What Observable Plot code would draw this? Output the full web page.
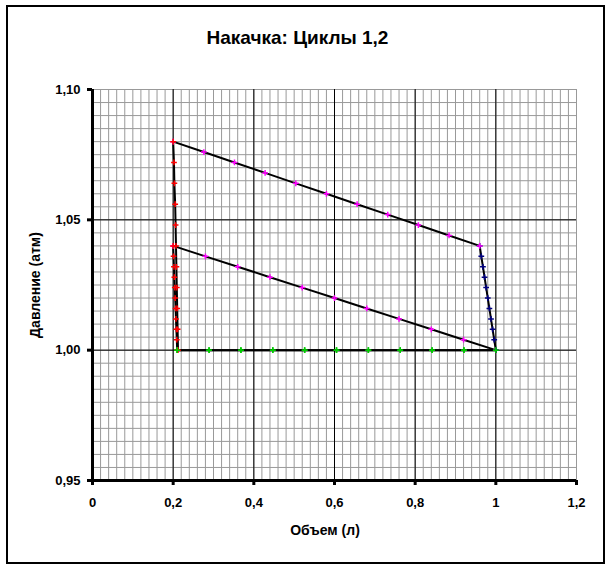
<!DOCTYPE html>
<html>
<head>
<meta charset="utf-8">
<script src="https://cdn.jsdelivr.net/npm/d3@7"></script>
<script src="https://cdn.jsdelivr.net/npm/@observablehq/plot@0.6"></script>
<style>
  html, body { margin: 0; padding: 0; background: #fff; }
  #wrap { position: relative; width: 611px; height: 577px; font-family: Arial, "Liberation Sans", sans-serif; }
  #border { position: absolute; left: 6px; top: 5px; width: 595px; height: 555px; border: 2px solid #000; box-sizing: content-box; pointer-events: none; }
  .t { position: absolute; font-weight: bold; color: #000; white-space: nowrap; }
  #title { left: 0; width: 595px; text-align: center; top: 27px; font-size: 19px; }
  #xlab { left: 0; width: 650px; text-align: center; top: 522px; font-size: 14px; }
  #ylab { left: 35px; top: 285px; font-size: 14px; transform: translate(-50%, -50%) rotate(-90deg); }
  #chart { position: absolute; left: 0; top: 0; }
</style>
</head>
<body>
<div id="wrap">
  <div id="chart"></div>
  <div id="border"></div>
  <div class="t" id="title">Накачка: Циклы 1,2</div>
  <div class="t" id="xlab">Объем (л)</div>
  <div class="t" id="ylab">Давление (атм)</div>
</div>
<script>
// Tick values
const xTicks = [0, 0.2, 0.4, 0.6, 0.8, 1.0, 1.2];
const yTicks = [0.95, 1.00, 1.05, 1.10];

// Cycle 1: compression (magenta)
const c1CompX = [1.0, 0.92, 0.84, 0.76, 0.68, 0.60, 0.52, 0.44, 0.36, 0.28, 0.20];
const c1CompY = [1.000, 1.004, 1.008, 1.012, 1.016, 1.020, 1.024, 1.028, 1.032, 1.036, 1.040];
// Cycle 1: expansion (red)
const c1ExpX = [0.200, 0.201, 0.202, 0.203, 0.204, 0.205, 0.206, 0.207, 0.208, 0.209, 0.210];
const c1ExpY = [1.040, 1.036, 1.032, 1.028, 1.024, 1.020, 1.016, 1.012, 1.008, 1.004, 1.000];
// Intake (green), both cycles
const intakeX = [0.21, 0.289, 0.368, 0.447, 0.526, 0.605, 0.684, 0.763, 0.842, 0.921, 1.0];
const intakeY = [1.0, 1.0, 1.0, 1.0, 1.0, 1.0, 1.0, 1.0, 1.0, 1.0, 1.0];
// Cycle 2: compression before valve opens (blue)
const c2Comp1X = [1.0, 0.996, 0.992, 0.988, 0.984, 0.980, 0.976, 0.972, 0.968, 0.964, 0.960];
const c2Comp1Y = [1.000, 1.004, 1.008, 1.012, 1.016, 1.020, 1.024, 1.028, 1.032, 1.036, 1.040];
// Cycle 2: compression into tank (magenta)
const c2Comp2X = [0.96, 0.884, 0.808, 0.732, 0.656, 0.58, 0.504, 0.428, 0.352, 0.276, 0.20];
const c2Comp2Y = [1.040, 1.044, 1.048, 1.052, 1.056, 1.060, 1.064, 1.068, 1.072, 1.076, 1.080];
// Cycle 2: expansion (red)
const c2ExpX = [0.200, 0.202, 0.203, 0.205, 0.206, 0.207, 0.208, 0.209, 0.210, 0.211, 0.212];
const c2ExpY = [1.080, 1.072, 1.064, 1.056, 1.048, 1.040, 1.032, 1.024, 1.016, 1.008, 1.000];

const series = [
  {x: c1CompX, y: c1CompY, color: "#ff00ff"},
  {x: c1ExpX, y: c1ExpY, color: "#ff0000"},
  {x: intakeX, y: intakeY, color: "#00cc00"},
  {x: c2Comp1X, y: c2Comp1Y, color: "#000080"},
  {x: c2Comp2X, y: c2Comp2Y, color: "#ff00ff"},
  {x: c2ExpX, y: c2ExpY, color: "#ff0000"},
  {x: intakeX, y: intakeY, color: "#00cc00"}
];
const toRows = s => s.x.map((v, i) => ({x: v, y: s.y[i]}));

const xMinor = d3.range(0, 61).map(i => Math.round(i * 2) / 100);
const yMinor = d3.range(0, 31).map(i => Math.round((0.95 + i * 0.005) * 1000) / 1000);
const xMajor = [0.2, 0.4, 0.6, 0.8, 1.0];
const yMajor = [1.00, 1.05];

const fx = d => d === 0 ? "0" : String(Math.round(d * 10) / 10).replace(".", ",");
const fy = d => d3.format(".2f")(d).replace(".", ",");

const marks = [
  Plot.ruleX(xMinor, {stroke: "#999", strokeWidth: 1}),
  Plot.ruleY(yMinor, {stroke: "#999", strokeWidth: 1}),
  Plot.ruleX(xMajor, {stroke: "#000", strokeWidth: 1}),
  Plot.ruleY(yMajor, {stroke: "#000", strokeWidth: 1}),
  Plot.axisX({ticks: xTicks, tickFormat: fx, tickSize: 5, tickPadding: 12, strokeWidth: 3, label: null, fontSize: 13, fontWeight: "bold"}),
  Plot.axisY({ticks: yTicks, tickFormat: fy, tickSize: 5, tickPadding: 7, strokeWidth: 3, label: null, fontSize: 13, fontWeight: "bold"}),
  Plot.ruleX([0], {stroke: "#000", strokeWidth: 3}),
  Plot.ruleY([0.95], {stroke: "#000", strokeWidth: 3})
];
for (const s of series) {
  marks.push(Plot.line(toRows(s), {x: "x", y: "y", stroke: "#000", strokeWidth: 2}));
}
for (const s of series) {
  marks.push(Plot.dot(toRows(s), {x: "x", y: "y", symbol: "plus", r: 2, stroke: s.color, strokeWidth: 1.5}));
}

const chart = Plot.plot({
  width: 611,
  height: 577,
  marginLeft: 92,
  marginRight: 35,
  marginTop: 89,
  marginBottom: 97,
  x: {domain: [0, 1.2]},
  y: {domain: [0.95, 1.10]},
  style: {fontFamily: "Arial, 'Liberation Sans', sans-serif", background: "transparent", color: "#000"},
  marks
});
document.getElementById("chart").appendChild(chart);
</script>
</body>
</html>
